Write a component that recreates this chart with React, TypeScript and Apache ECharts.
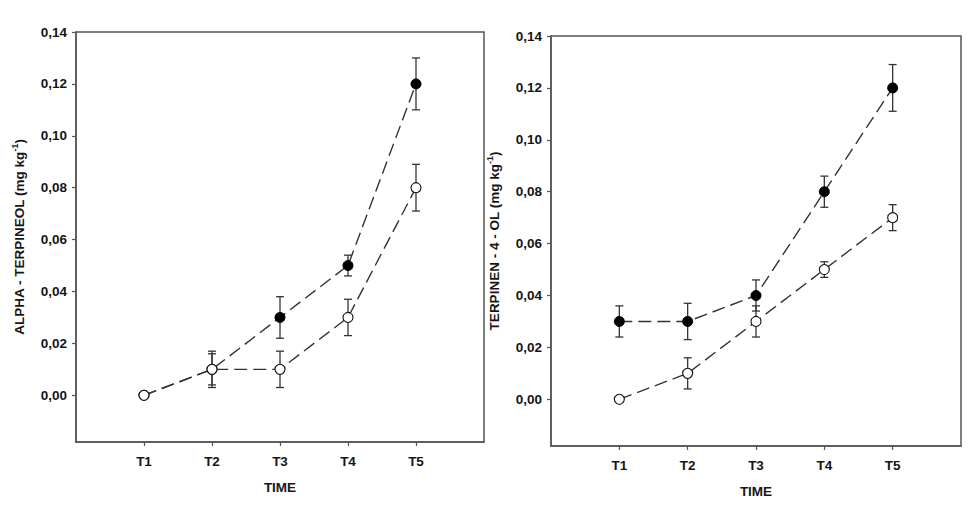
import React, { useEffect, useRef } from "react";
import * as echarts from "echarts";

const categories = ["T1", "T2", "T3", "T4", "T5"];
const yTicks = [0, 0.02, 0.04, 0.06, 0.08, 0.1, 0.12, 0.14];

const alphaFilled = [0, 0.01, 0.03, 0.05, 0.12];
const alphaFilledLow = [0, 0.004, 0.022, 0.046, 0.11];
const alphaFilledHigh = [0, 0.016, 0.038, 0.054, 0.13];
const alphaOpen = [0, 0.01, 0.01, 0.03, 0.08];
const alphaOpenLow = [0, 0.003, 0.003, 0.023, 0.071];
const alphaOpenHigh = [0, 0.017, 0.017, 0.037, 0.089];

const terpFilled = [0.03, 0.03, 0.04, 0.08, 0.12];
const terpFilledLow = [0.024, 0.023, 0.034, 0.074, 0.111];
const terpFilledHigh = [0.036, 0.037, 0.046, 0.086, 0.129];
const terpOpen = [0, 0.01, 0.03, 0.05, 0.07];
const terpOpenLow = [0, 0.004, 0.024, 0.047, 0.065];
const terpOpenHigh = [0, 0.016, 0.036, 0.053, 0.075];

const FONT = "Liberation Sans";
const AXIS_COLOR = "#555";
const TEXT_COLOR = "#151515";
const FS = 13.5;

function pts(vals: number[]) {
  return vals.map((v, i) => [i + 1, v]);
}
function errs(lo: number[], hi: number[]) {
  return lo.map((l, i) => [i + 1, l, hi[i]]).filter((d) => d[2] > d[1]);
}

function xAxis(gridIndex: number) {
  return {
    type: "value",
    gridIndex,
    min: 0,
    max: 6,
    name: "TIME",
    nameLocation: "middle",
    nameGap: 38,
    nameTextStyle: { fontFamily: FONT, fontWeight: "bold", fontSize: FS, color: TEXT_COLOR },
    axisLine: { show: true, onZero: false, lineStyle: { color: AXIS_COLOR, width: 1.5 } },
    axisTick: { show: true, length: 4, customValues: [1, 2, 3, 4, 5], lineStyle: { color: AXIS_COLOR, width: 1.2 } },
    axisLabel: {
      customValues: [1, 2, 3, 4, 5],
      margin: 12,
      formatter: (v: number) => categories[Math.round(v) - 1] || "",
      fontFamily: FONT,
      fontWeight: "bold",
      fontSize: FS,
      color: TEXT_COLOR,
    },
    splitLine: { show: false },
  };
}

function yAxis(gridIndex: number, title: string) {
  return {
    type: "value",
    gridIndex,
    min: -0.018,
    max: 0.14,
    name: `{a|${title} (mg kg}{s|-1}{a|)}`,
    nameLocation: "middle",
    nameRotate: 90,
    nameGap: 50,
    nameTextStyle: {
      rich: {
        a: { fontFamily: FONT, fontWeight: "bold", fontSize: FS, color: TEXT_COLOR, lineHeight: 16, verticalAlign: "bottom" },
        s: { fontFamily: FONT, fontWeight: "bold", fontSize: 9, color: TEXT_COLOR, lineHeight: 16, verticalAlign: "top" },
      },
    },
    axisLine: { show: true, onZero: false, lineStyle: { color: AXIS_COLOR, width: 1.5 } },
    axisTick: { show: true, length: 4, customValues: yTicks, lineStyle: { color: AXIS_COLOR, width: 1.2 } },
    axisLabel: {
      customValues: yTicks,
      margin: 9,
      formatter: (v: number) => v.toFixed(2).replace(".", ","),
      fontFamily: FONT,
      fontWeight: "bold",
      fontSize: FS,
      color: TEXT_COLOR,
    },
    splitLine: { show: false },
  };
}

function errSeries(idx: number, lo: number[], hi: number[]) {
  return {
    type: "custom",
    xAxisIndex: idx,
    yAxisIndex: idx,
    z: 1,
    silent: true,
    encode: { x: 0, y: [1, 2] },
    data: errs(lo, hi),
    renderItem: (params: any, api: any) => {
      const x = api.value(0);
      const p1 = api.coord([x, api.value(1)]);
      const p2 = api.coord([x, api.value(2)]);
      const w = 4;
      const st = { stroke: "#333", lineWidth: 1.3 };
      return {
        type: "group",
        children: [
          { type: "line", shape: { x1: p1[0], y1: p1[1], x2: p2[0], y2: p2[1] }, style: st },
          { type: "line", shape: { x1: p1[0] - w, y1: p1[1], x2: p1[0] + w, y2: p1[1] }, style: st },
          { type: "line", shape: { x1: p2[0] - w, y1: p2[1], x2: p2[0] + w, y2: p2[1] }, style: st },
        ],
      };
    },
  };
}

function lineSeries(idx: number, vals: number[], filled: boolean) {
  return {
    type: "line",
    xAxisIndex: idx,
    yAxisIndex: idx,
    z: filled ? 3 : 4,
    data: pts(vals),
    symbol: "circle",
    symbolSize: 10,
    lineStyle: { color: "#333", width: 1.4, type: [13, 6] },
    itemStyle: filled
      ? { color: "#000", borderColor: "#000", borderWidth: 1 }
      : { color: "#fff", borderColor: "#111", borderWidth: 1.1 },
  };
}

export default function App() {
  const ref = useRef<HTMLDivElement>(null);
  useEffect(() => {
    if (!ref.current) return;
    const chart = echarts.init(ref.current, undefined, { renderer: "svg" });
    chart.setOption({
      animation: false,
      backgroundColor: "#fff",
      grid: [
        { left: 76, top: 32, width: 408, height: 410, show: true, borderColor: AXIS_COLOR, borderWidth: 1.5, backgroundColor: "transparent" },
        { left: 551, top: 36, width: 410, height: 410, show: true, borderColor: AXIS_COLOR, borderWidth: 1.5, backgroundColor: "transparent" },
      ],
      xAxis: [xAxis(0), xAxis(1)],
      yAxis: [yAxis(0, "ALPHA - TERPINEOL"), yAxis(1, "TERPINEN - 4 - OL")],
      series: [
        errSeries(0, alphaFilledLow, alphaFilledHigh),
        errSeries(0, alphaOpenLow, alphaOpenHigh),
        lineSeries(0, alphaFilled, true),
        lineSeries(0, alphaOpen, false),
        errSeries(1, terpFilledLow, terpFilledHigh),
        errSeries(1, terpOpenLow, terpOpenHigh),
        lineSeries(1, terpFilled, true),
        lineSeries(1, terpOpen, false),
      ],
    });
    return () => chart.dispose();
  }, []);
  return <div ref={ref} style={{ position: "fixed", left: 0, top: 0, width: 976, height: 505 }} />;
}
